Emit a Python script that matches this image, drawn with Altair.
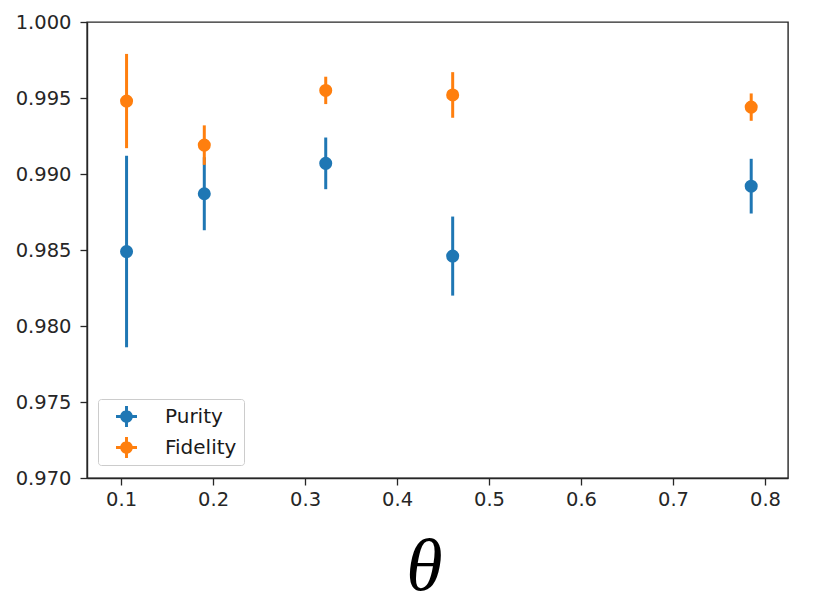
import altair as alt
import pandas as pd

# Measured angles and the two figures of merit with their uncertainties
theta = [0.106, 0.1905, 0.3225, 0.4605, 0.785]
purity = [0.9849, 0.9887, 0.9907, 0.9846, 0.9892]
purity_err = [0.0063, 0.0024, 0.0017, 0.0026, 0.0018]
fidelity = [0.9948, 0.9919, 0.9955, 0.9952, 0.9944]
fidelity_err = [0.0031, 0.0013, 0.0009, 0.0015, 0.0009]

series_names = ["Purity", "Fidelity"]
series_colors = ["#1f77b4", "#ff7f0e"]
x_ticks = [0.1, 0.2, 0.3, 0.4, 0.5, 0.6, 0.7, 0.8]
y_ticks = [0.970, 0.975, 0.980, 0.985, 0.990, 0.995, 1.000]

rows = []
for name, vals, errs in (("Purity", purity, purity_err), ("Fidelity", fidelity, fidelity_err)):
    for t, v, e in zip(theta, vals, errs):
        rows.append({"theta": t, "value": v, "lo": v - e, "hi": v + e, "series": name})
df = pd.DataFrame(rows)

# errorbar-style legend glyph: a dot crossed by short bars
legend_glyph = (
    "M-0.14,-1L0.14,-1L0.14,1L-0.14,1Z "
    "M-1,-0.14L1,-0.14L1,0.14L-1,0.14Z "
    "M0.6,0A0.6,0.6,0,1,1,-0.6,0A0.6,0.6,0,1,1,0.6,0Z"
)

legend = alt.Legend(
    title=None, orient="none", legendX=11, legendY=377,
    symbolType=legend_glyph, symbolSize=441, symbolStrokeWidth=0,
    symbolOpacity=1, labelFontSize=20, labelFont="DejaVu Sans",
    labelColor="#1a1a1a", labelOffset=28, rowPadding=10, padding=7,
    symbolOffset=11, strokeColor="#cccccc", fillColor="#ffffff",
    cornerRadius=3,
)

x_scale = alt.Scale(domain=[0.063, 0.825], nice=False, zero=False)
y_scale = alt.Scale(domain=[0.970, 1.000], nice=False, zero=False)
color_scale = alt.Scale(domain=series_names, range=series_colors)

x_axis = alt.Axis(
    values=x_ticks, format=".1f", title="θ",
    titleFont="Liberation Serif", titleFontStyle="italic", titleFontWeight="normal",
    titleFontSize=74, titleColor="#000000", titleAlign="center",
    titleBaseline="alphabetic", titleX=337, titleY=111, titleAngle=0,
)
y_axis = alt.Axis(values=y_ticks, format=".3f", title=None)

base = alt.Chart(df)

bars = base.mark_rule(strokeWidth=3).encode(
    x=alt.X("theta:Q", scale=x_scale, axis=x_axis),
    y=alt.Y("lo:Q", scale=y_scale, axis=y_axis),
    y2="hi:Q",
    color=alt.Color("series:N", scale=color_scale, legend=legend),
)

dots = base.mark_circle(size=170, opacity=1).encode(
    x=alt.X("theta:Q", scale=x_scale),
    y=alt.Y("value:Q", scale=y_scale),
    color=alt.Color("series:N", scale=color_scale, legend=legend),
)

chart = (
    alt.layer(bars, dots)
    .properties(
        width=701, height=456,
        autosize=alt.AutoSizeParams(type="none"),
        padding={"left": 87, "top": 22, "right": 34, "bottom": 130},
        background="#ffffff",
    )
    .configure_view(stroke="#262626", strokeWidth=1.4)
    .configure_axis(
        labelFont="DejaVu Sans", labelFontSize=19.5, labelColor="#262626",
        tickSize=7, tickWidth=1.3, tickColor="#262626",
        domainColor="#262626", domainWidth=1.4, grid=False,
    )
    .configure_axisX(labelPadding=5)
    .configure_axisY(labelPadding=9)
)

chart.save("out.html", embed_options={"renderer": "svg", "actions": False})
